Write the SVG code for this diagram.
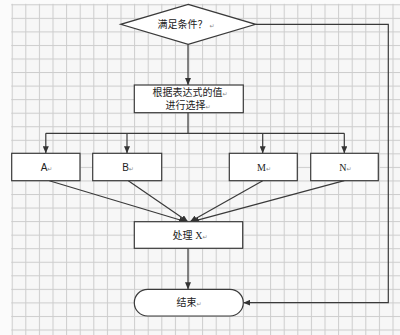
<svg xmlns="http://www.w3.org/2000/svg" width="400" height="335" viewBox="0 0 400 335">
<defs>
<pattern id="grid" x="11.7" y="4.3" width="13.6" height="13.55" patternUnits="userSpaceOnUse">
<rect x="0" y="0" width="13.6" height="13.55" fill="#f7f7f7"/>
<rect x="0" y="0" width="1" height="13.55" fill="#cdcdcd"/>
<rect x="0" y="0" width="13.6" height="1" fill="#cdcdcd"/>
</pattern>
<marker id="arr" markerUnits="userSpaceOnUse" markerWidth="7" markerHeight="6" refX="7" refY="3" orient="auto">
<path d="M0,0 L7,3 L0,6 z" fill="#333"/>
</marker>
<style>
.c{fill:none;stroke:#3a3a3a;stroke-width:1.2}
.a{marker-end:url(#arr)}
.n{fill:#fff;stroke:#3a3a3a;stroke-width:1.2}
.t{font-family:"Liberation Sans","Noto Sans CJK SC",sans-serif;font-size:10px;fill:#222;text-anchor:middle}
.s{font-family:"Liberation Serif","Noto Sans CJK SC",serif}
.p{font-family:"DejaVu Sans",sans-serif;font-size:6px;fill:#888}
</style>
</defs>
<rect x="0" y="0" width="400" height="335" fill="#fbfbfb"/>
<rect x="11.2" y="3.8" width="388.8" height="331.2" fill="url(#grid)"/>
<g id="connectors">
<path class="c a" d="M188,44.3 V85"/>
<path class="c" d="M188,112.7 V133.3 M45.8,133.3 H344.3"/>
<path class="c a" d="M45.8,133.3 V153.3"/>
<path class="c a" d="M127,133.3 V153.3"/>
<path class="c a" d="M262.7,133.3 V153.3"/>
<path class="c a" d="M344.3,133.3 V153.3"/>
<path class="c a" d="M49.3,180.7 L186,221.7"/>
<path class="c a" d="M128.3,180.7 L188,221.7"/>
<path class="c a" d="M262.7,180.7 L190,221.7"/>
<path class="c a" d="M344.3,180.7 L192,221.7"/>
<path class="c a" d="M188,248.3 V289.3"/>
<path class="c a" d="M255.7,24.3 H388.3 V302.7 H243.3"/>
</g>
<g id="cond">
<path class="n" d="M188.2,4.3 L255.7,24.3 L188.2,44.3 L120.7,24.3 Z"/>
<text class="t" x="186" y="28">满足条件？<tspan class="p"> ↵</tspan></text>
</g>
<g id="select">
<rect class="n" x="134.3" y="85" width="109" height="27.7"/>
<text class="t" x="190" y="95.5">根据表达式的值<tspan class="p">↵</tspan></text>
<text class="t" x="188" y="108.5">进行选择<tspan class="p">↵</tspan></text>
</g>
<g id="A">
<rect class="n" x="11.7" y="153.3" width="68.3" height="27.4"/>
<text class="t" x="46.5" y="170.5">A<tspan class="p">↵</tspan></text>
</g>
<g id="B">
<rect class="n" x="92.7" y="153.3" width="69" height="27.4"/>
<text class="t" x="128" y="170.5">B<tspan class="p">↵</tspan></text>
</g>
<g id="M">
<rect class="n" x="229.3" y="153.3" width="68" height="27.4"/>
<text class="t" x="264" y="170.5"><tspan class="s">M</tspan><tspan class="p">↵</tspan></text>
</g>
<g id="N">
<rect class="n" x="310.7" y="153.3" width="67.6" height="27.4"/>
<text class="t" x="345.5" y="170.5"><tspan class="s">N</tspan><tspan class="p">↵</tspan></text>
</g>
<g id="process">
<rect class="n" x="134.3" y="221.7" width="108.4" height="26.6"/>
<text class="t" x="190" y="238.5">处理 <tspan class="s">X</tspan><tspan class="p">↵</tspan></text>
</g>
<g id="end">
<rect class="n" x="134.3" y="289.3" width="109" height="26.7" rx="13.35" ry="13.35"/>
<text class="t" x="189" y="306.3">结束<tspan class="p">↵</tspan></text>
</g>
</svg>
